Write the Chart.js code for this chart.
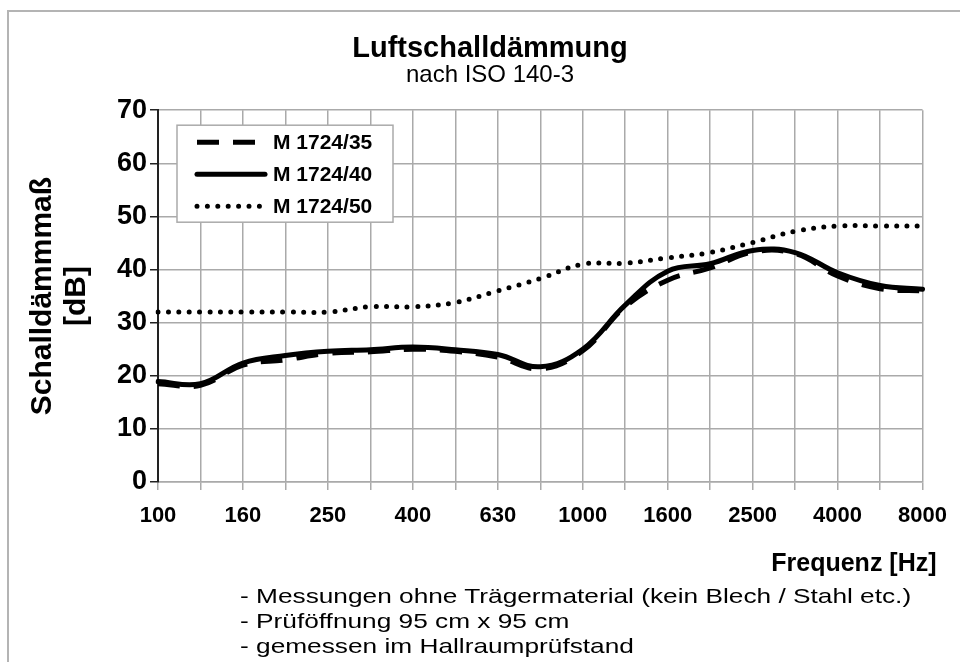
<!DOCTYPE html>
<html lang="de">
<head>
<meta charset="utf-8">
<title>Luftschalldämmung</title>
<script src="https://cdn.jsdelivr.net/npm/chart.js@4.4.1/dist/chart.umd.min.js"></script>
<style>
  html, body { margin: 0; padding: 0; background: #fff; overflow: hidden; }
  #wrap { position: relative; width: 960px; height: 662px; }
  #frame { position: absolute; left: 7px; top: 10px; width: 1000px; height: 700px;
           border-top: 2px solid #b4b4b4; border-left: 2px solid #b4b4b4; }
  canvas { position: absolute; left: 0; top: 0; }
  #notes { position: absolute; left: 240px; top: 583px; color: #000;
           font: 21px "Liberation Sans", Arial, sans-serif; line-height: 25px;
           transform: scaleX(1.25); transform-origin: left top; white-space: nowrap; }
</style>
</head>
<body>
<div id="wrap">
  <div id="frame"></div>
  <canvas id="soundChart" width="960" height="662"></canvas>
  <div id="notes">
    <div>- Messungen ohne Trägermaterial (kein Blech / Stahl etc.)</div>
    <div>- Prüföffnung 95 cm x 95 cm</div>
    <div>- gemessen im Hallraumprüfstand</div>
  </div>
</div>
<script>
// Terzbänder (Hz)
const frequencies = ['100', '125', '160', '200', '250', '315', '400', '500', '630', '800',
                     '1000', '1250', '1600', '2000', '2500', '3150', '4000', '5000', '8000'];
// Schalldämmmaß R in dB
const m1724_35 = [18.5, 18.2, 22.0, 23.0, 24.2, 24.5, 25.0, 24.6, 23.5, 21.3,
                  24.7, 33.0, 38.0, 40.3, 43.3, 43.0, 38.8, 36.4, 36.0];
const m1724_40 = [18.9, 18.5, 22.4, 23.8, 24.6, 24.9, 25.4, 24.9, 24.0, 21.7,
                  25.0, 33.3, 39.7, 41.1, 43.6, 43.2, 39.4, 37.0, 36.3];
const m1724_50 = [32.0, 32.0, 32.0, 32.0, 32.0, 33.0, 33.0, 33.8, 36.0, 38.3,
                  41.0, 41.2, 42.2, 43.2, 45.1, 47.2, 48.2, 48.2, 48.2];
const yTicks = [0, 10, 20, 30, 40, 50, 60, 70];

const FONT = '"Liberation Sans", Arial, sans-serif';

// Legende als Kasten im Diagramm
const boxLegend = {
    id: 'boxLegend',
    beforeDatasetsDraw(chart) {
        const ctx = chart.ctx;
        const area = chart.chartArea;
        const x = area.left + 19, y = area.top + 15, w = 216, h = 97;
        ctx.save();
        ctx.fillStyle = '#fff';
        ctx.fillRect(x, y, w, h);
        ctx.strokeStyle = '#aaa';
        ctx.lineWidth = 1.5;
        ctx.strokeRect(x, y, w, h);
        chart.data.datasets.forEach((ds, i) => {
            const ry = y + 17 + i * 32;
            ctx.beginPath();
            ctx.strokeStyle = ds.borderColor;
            ctx.lineWidth = ds.borderWidth;
            ctx.lineCap = ds.borderCapStyle || 'butt';
            ctx.setLineDash(ds.borderDash || []);
            ctx.moveTo(x + 20, ry);
            ctx.lineTo(x + 88, ry);
            ctx.stroke();
            ctx.setLineDash([]);
            ctx.fillStyle = '#000';
            ctx.font = 'bold 21px ' + FONT;
            ctx.textBaseline = 'middle';
            ctx.textAlign = 'left';
            ctx.fillText(ds.label, x + 96, ry + 1);
        });
        ctx.restore();
    },
    afterDraw(chart) {
        // Achsentitel x, rechtsbündig etwas über den Plotbereich hinaus
        const ctx = chart.ctx;
        ctx.save();
        ctx.fillStyle = '#000';
        ctx.font = 'bold 25px ' + FONT;
        ctx.textAlign = 'right';
        ctx.textBaseline = 'middle';
        ctx.fillText('Frequenz [Hz]', chart.chartArea.right + 14, 564);
        ctx.restore();
    }
};

const ctx = document.getElementById('soundChart').getContext('2d');
new Chart(ctx, {
    type: 'line',
    data: {
        labels: frequencies,
        datasets: [{
            label: 'M 1724/35',
            data: m1724_35,
            borderColor: '#000',
            borderWidth: 5,
            borderDash: [22, 14],
            tension: 0.4,
            pointRadius: 0
        }, {
            label: 'M 1724/40',
            data: m1724_40,
            borderColor: '#000',
            borderWidth: 5,
            borderCapStyle: 'round',
            tension: 0.4,
            pointRadius: 0
        }, {
            label: 'M 1724/50',
            data: m1724_50,
            borderColor: '#000',
            borderWidth: 5,
            borderDash: [0, 10.4],
            borderCapStyle: 'round',
            tension: 0.4,
            pointRadius: 0
        }]
    },
    options: {
        responsive: false,
        animation: false,
        layout: { padding: { left: 57, right: 37, top: 0, bottom: 80 } },
        plugins: {
            legend: { display: false },
            tooltip: { enabled: false },
            title: {
                display: true,
                text: 'Luftschalldämmung',
                color: '#000',
                font: { family: FONT, size: 29, weight: 'bold', lineHeight: 1.0 },
                padding: { top: 34, bottom: 0 }
            },
            subtitle: {
                display: true,
                text: 'nach ISO 140-3',
                color: '#000',
                font: { family: FONT, size: 24, lineHeight: 1.05 },
                padding: { top: 0, bottom: 22 }
            }
        },
        scales: {
            x: {
                grid: { color: '#aaa', lineWidth: 1.5, tickColor: '#aaa', tickLength: 8 },
                border: { color: '#aaa', width: 1.5 },
                ticks: {
                    autoSkip: false,
                    maxRotation: 0,
                    padding: 13,
                    color: '#000',
                    font: { family: FONT, size: 22, weight: 'bold' },
                    callback: (v, i) => (i % 2 === 0 || i === frequencies.length - 1) ? frequencies[i] : ''
                },
                afterFit: (scale) => { scale.height = 100; }
            },
            y: {
                min: yTicks[0],
                max: yTicks[yTicks.length - 1],
                grid: { color: '#aaa', lineWidth: 1.5, tickColor: '#222', tickLength: 8 },
                border: { color: '#222', width: 2 },
                afterBuildTicks: (scale) => { scale.ticks = yTicks.map(v => ({ value: v })); },
                ticks: {
                    padding: 3,
                    color: '#000',
                    font: { family: FONT, size: 27, weight: 'bold' }
                },
                title: {
                    display: true,
                    text: ['Schalldämmmaß', '[dB]'],
                    color: '#000',
                    font: { family: FONT, size: 30, weight: 'bold', lineHeight: 1.15 },
                    padding: { top: -32, bottom: 0 }
                },
                afterFit: (scale) => { scale.width = 101; }
            }
        }
    },
    plugins: [boxLegend]
});
</script>
</body>
</html>
